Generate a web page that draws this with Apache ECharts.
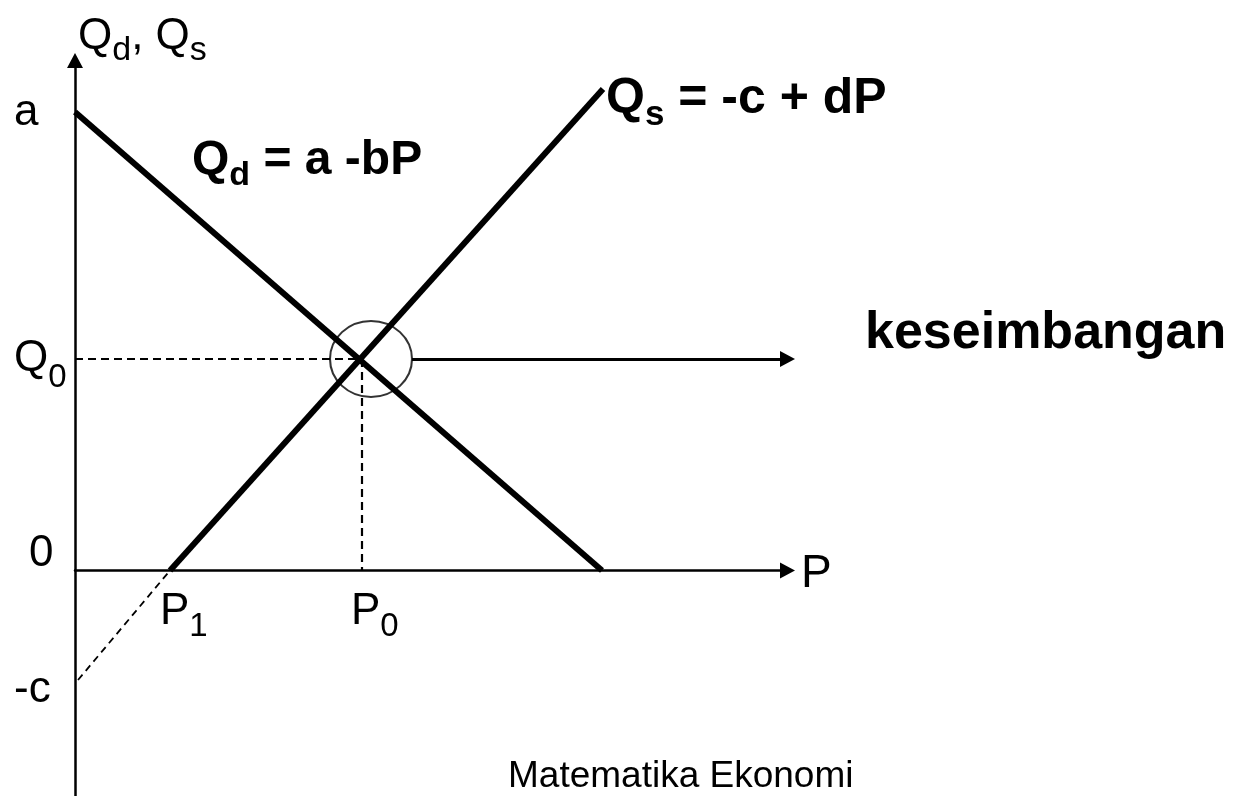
<!DOCTYPE html>
<html><head><meta charset="utf-8">
<script src="https://cdn.jsdelivr.net/npm/echarts@6/dist/echarts.min.js"></script>
<style>html,body{margin:0;padding:0;background:#fff}#c{width:1233px;height:796px}</style>
</head><body><div id="c"></div>
<script>
// ---- data (price P on x, quantity Q on y, arbitrary units) ----
const demandP = [0, 52.7];
const demandQ = [45.85, 0];
const supplyP = [9.5, 52.8];
const supplyQ = [0, 48.15];
const supplyExtP = [0.3, 9.5];
const supplyExtQ = [-10.95, 0];
const equilibriumP = 28.7;
const equilibriumQ = 21.15;
const circleCenter = [29.6, 21.15];
const arrowP = [33.7, 71.25];
const pRange = [0, 71.25];
const qRange = [-22.55, 51.0];

const FONT = '"Liberation Sans", Arial, Helvetica, sans-serif';
const zip = (a, b) => a.map((v, i) => [v, b[i]]);

const ctx = document.createElement('canvas').getContext('2d');
function tw(t, size, weight) { ctx.font = weight + ' ' + size + 'px ' + FONT; return ctx.measureText(t).width; }
function label(x, baseline, segs, size, subSize, drop, weight) {
  let cx = x; const els = [];
  segs.forEach(s => {
    const sz = s.sub ? subSize : size;
    const by = baseline + (s.sub ? drop : 0);
    els.push({ type: 'text', x: cx, y: by - 0.347 * sz, silent: true,
      style: { text: s.t, fontSize: sz, fontFamily: FONT, fontWeight: weight, fill: '#000', align: 'left', verticalAlign: 'middle' } });
    cx += tw(s.t, sz, weight);
  });
  return els;
}

const texts = [].concat(
  label(78, 52, [{t:'Q'},{t:'d',sub:1},{t:', Q'},{t:'s',sub:1}], 44, 34, 10, 'normal'),
  label(14, 128, [{t:'a'}], 44, 32, 10, 'normal'),
  label(14, 374, [{t:'Q'},{t:'0',sub:1}], 44, 33, 15, 'normal'),
  label(29, 569, [{t:'0'}], 44, 32, 10, 'normal'),
  label(14, 705, [{t:'-c'}], 44, 32, 10, 'normal'),
  label(160, 627, [{t:'P'},{t:'1',sub:1}], 44, 33, 11, 'normal'),
  label(351, 627, [{t:'P'},{t:'0',sub:1}], 44, 33, 11, 'normal'),
  label(801, 590, [{t:'P'}], 46, 32, 10, 'normal'),
  label(192, 177, [{t:'Q'},{t:'d',sub:1}, {t:' = a -bP'}], 48, 34, 10, 'bold'),
  label(606, 117, [{t:'Q'},{t:'s',sub:1}, {t:' = -c + dP'}], 50, 35, 10, 'bold'),
  label(865, 352, [{t:'keseimbangan'}], 52, 34, 10, 'bold'),
  label(508, 790, [{t:'Matematika Ekonomi'}], 37, 30, 10, 'normal')
);

const chart = echarts.init(document.getElementById('c'), null, { renderer: 'canvas' });
const hiddenAxis = {
  type: 'value', splitLine: { show: false }, axisTick: { show: false }, axisLabel: { show: false },
  axisLine: { show: true, symbol: ['none', 'triangle'], symbolSize: [16, 15], lineStyle: { color: '#000', width: 2.5 } }
};
chart.setOption({
  animation: false,
  backgroundColor: '#fff',
  grid: { left: 75, top: 60.5, width: 712.5, height: 735.5, containLabel: false },
  xAxis: Object.assign({}, hiddenAxis, { min: pRange[0], max: pRange[1] }),
  yAxis: Object.assign({}, hiddenAxis, { min: qRange[0], max: qRange[1] }),
  series: [
    { type: 'line', data: zip(supplyExtP, supplyExtQ), symbol: 'none', silent: true,
      lineStyle: { color: '#000', width: 1.8, type: [7, 5] } },
    { type: 'line', data: [[0, equilibriumQ], [equilibriumP, equilibriumQ]], symbol: 'none', silent: true,
      lineStyle: { color: '#000', width: 2.2, type: [8, 5] } },
    { type: 'line', data: [[equilibriumP, equilibriumQ], [equilibriumP, 0]], symbol: 'none', silent: true,
      lineStyle: { color: '#000', width: 2.2, type: [8, 5] } },
    { type: 'line', data: zip(demandP, demandQ), symbol: 'none', silent: true,
      lineStyle: { color: '#000', width: 6 } },
    { type: 'line', data: zip(supplyP, supplyQ), symbol: 'none', silent: true,
      lineStyle: { color: '#000', width: 6 } },
    { type: 'scatter', data: [circleCenter], symbol: 'circle', symbolSize: [82, 76], silent: true,
      itemStyle: { color: 'rgba(0,0,0,0)', borderColor: '#000', borderWidth: 2 },
      markLine: { silent: true, symbol: ['none', 'triangle'], symbolSize: [16, 15], label: { show: false },
        lineStyle: { color: '#000', width: 3, type: 'solid' },
        data: [[{ coord: [arrowP[0], equilibriumQ] }, { coord: [arrowP[1], equilibriumQ] }]] } }
  ],
  graphic: texts
});
</script></body></html>
